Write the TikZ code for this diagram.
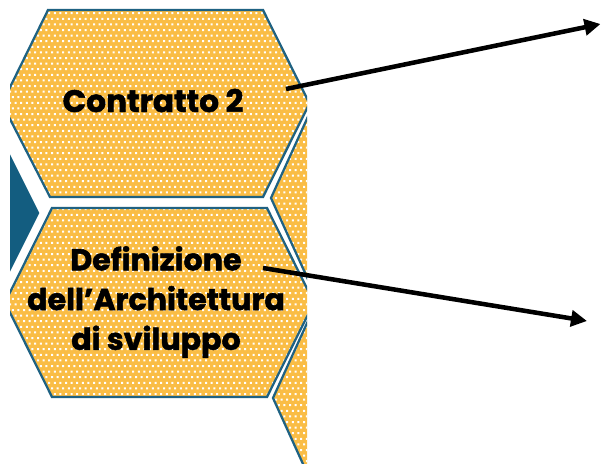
\documentclass[tikz,border=0pt]{standalone}
\usepackage{fontspec}
\newfontfamily\hexfont{Poppins}[BoldFeatures={FakeBold=1.6}]
\usetikzlibrary{arrows.meta}
\definecolor{honey}{HTML}{FABD45}
\definecolor{rim}{HTML}{1F6283}
\definecolor{deepteal}{HTML}{135D80}
\newcommand{\cellA}{(2,103.5) -- (48,10) -- (263,10) -- (309.5,103.5) -- (263,197) -- (50,197) -- cycle}
\newcommand{\cellB}{(5,302.5) -- (52,208) -- (267,208) -- (314,302.5) -- (267,397) -- (52,397) -- cycle}
\newcommand{\cellC}{(271,198) -- (313.5,104.5) -- (620,104.5) -- (620,291.5) -- (313.5,291.5) -- cycle}
\newcommand{\cellD}{(273,398) -- (315.5,304.5) -- (620,304.5) -- (620,491.5) -- (315.5,491.5) -- cycle}
\newcommand{\cellE}{(38,213) -- (-8.75,119.5) -- (-300,119.5) -- (-300,306.5) -- (-8.75,306.5) -- cycle}
\begin{document}
\begin{tikzpicture}[x=0.75pt,y=-0.75pt,
  cell/.style={draw=rim,line width=1.7pt,line join=miter},
  darkcell/.style={fill=deepteal,draw=deepteal,line width=1.7pt},
  lbl/.style={text=black, inner sep=0pt},
  link/.style={line width=3.4pt, -{Triangle[length=12pt,width=12pt]}}]
\useasboundingbox (0,0) rectangle (601,464);
\begin{scope}
  \clip (10,0) rectangle (307,464);
  \fill[honey] \cellA \cellB \cellC \cellD;
  \path[darkcell] \cellE;
  % white dots on the yellow cells
  \begin{scope}
    \clip \cellA \cellB \cellC \cellD;
    \fill[white]
      \foreach \r in {0,...,82} {
        \foreach \c in {0,...,54} {
          ({9+\c*5.6+mod(\r,2)*2.8},{1+\r*5.6}) rectangle ++(2,2)
        }
      };
  \end{scope}
  \draw[cell] \cellA;
  \draw[cell] \cellB;
  \draw[cell] \cellC;
  \draw[cell] \cellD;
\end{scope}
\node[lbl, font=\hexfont\bfseries\fontsize{23.3pt}{28pt}\selectfont, anchor=base]
  (c2) at (153,112) {Contratto 2};
\node[lbl, font=\hexfont\bfseries\fontsize{22.6pt}{29.8pt}\selectfont, align=center]
  (arch) at (156,302) {Definizione\\dell’Architettura\\di sviluppo};
\coordinate (c2out) at (286,89);
\coordinate (c2end) at (600.5,24);
\coordinate (archout) at (263,268);
\coordinate (archend) at (587,321);
\draw[link] (c2out) -- (c2end);
\draw[link] (archout) -- (archend);
\end{tikzpicture}
\end{document}
